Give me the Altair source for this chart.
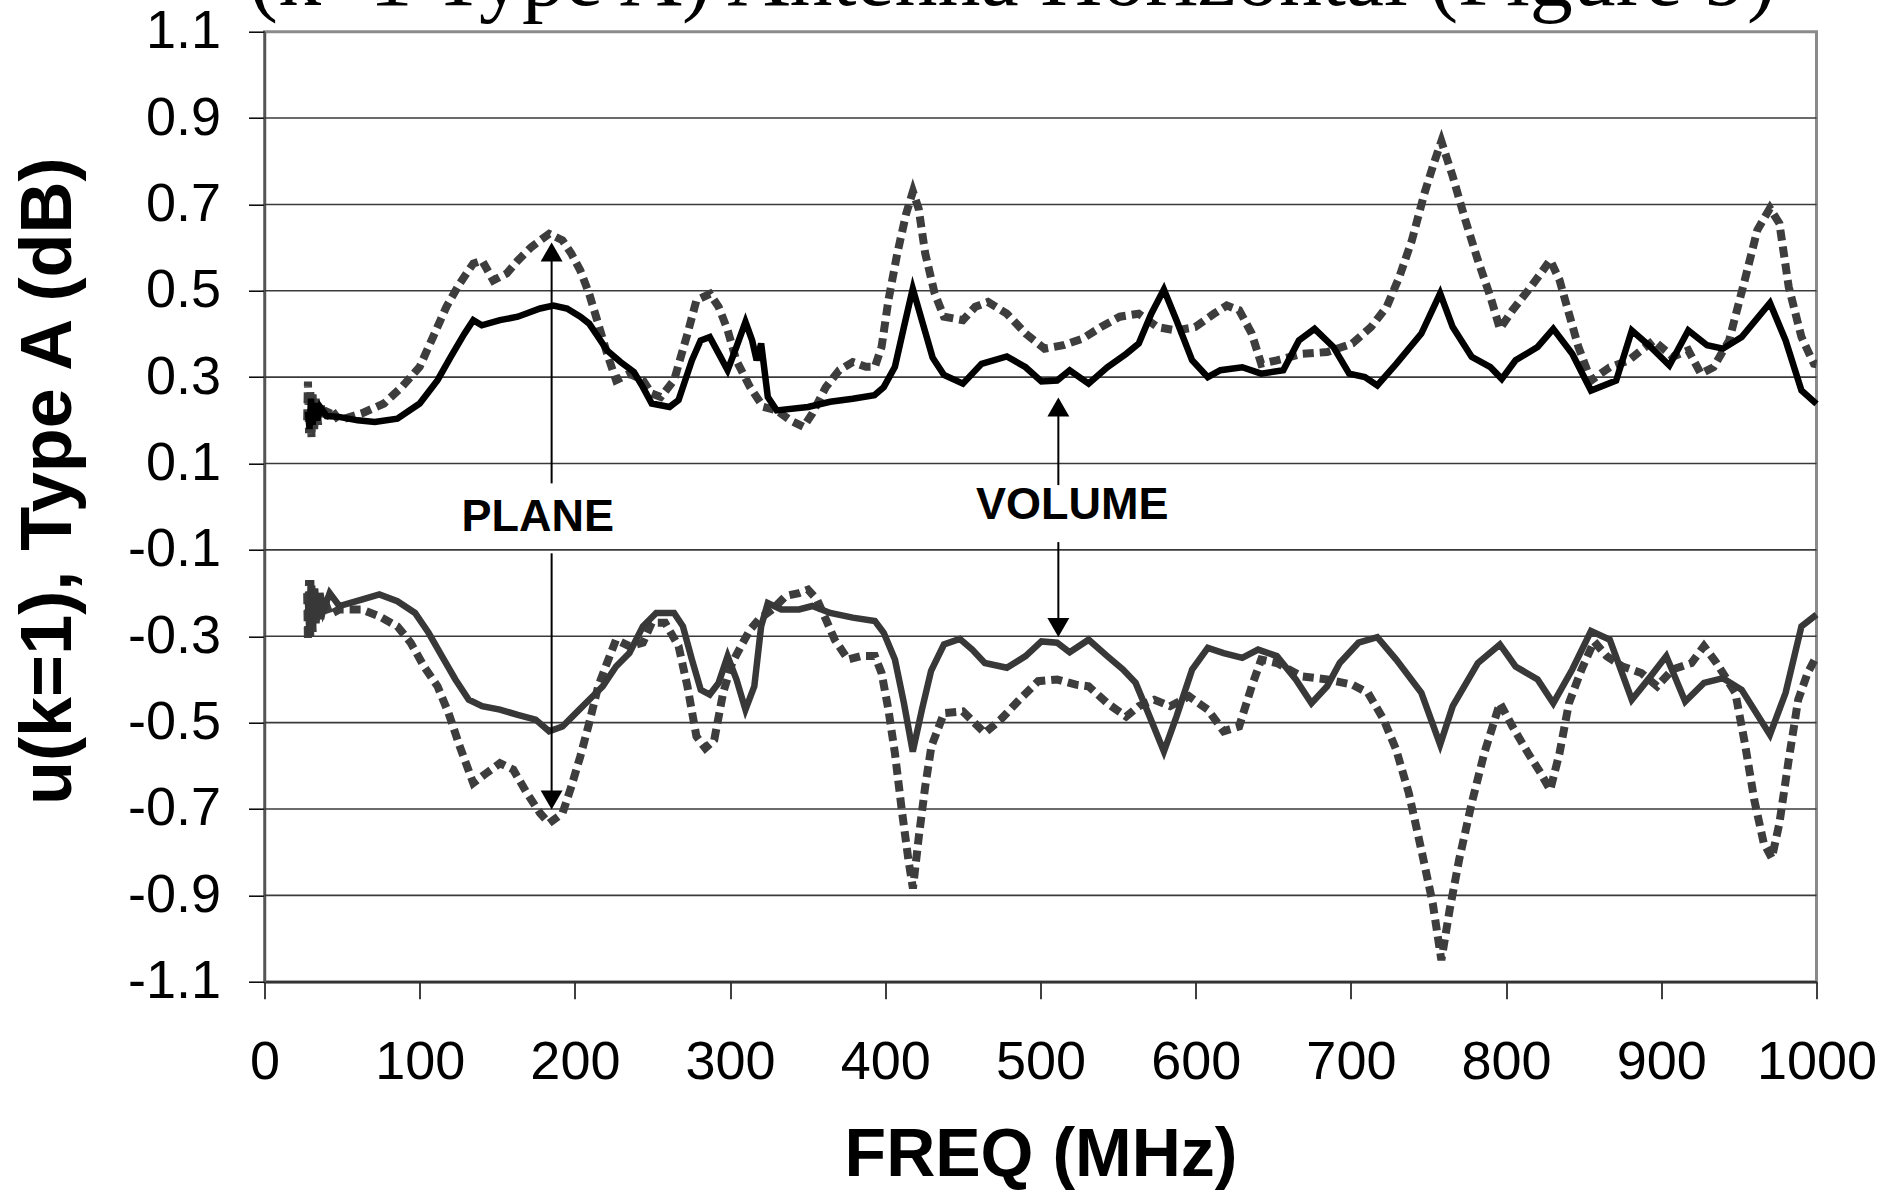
import altair as alt
import pandas as pd

# ---------------- data ----------------
chart_title = "(k=1 Type A) Antenna Horizontal (Figure 9)"
x_title = "FREQ (MHz)"
y_title = "u(k=1), Type A (dB)"

freq_ticks = [0, 100, 200, 300, 400, 500, 600, 700, 800, 900, 1000]
db_ticks = [-1.1, -0.9, -0.7, -0.5, -0.3, -0.1, 0.1, 0.3, 0.5, 0.7, 0.9, 1.1]
grid_db = [-0.9, -0.7, -0.5, -0.3, -0.1, 0.1, 0.3, 0.5, 0.7, 0.9]

# upper curves (positive)
upper_volume_freq = [28, 29, 30, 31, 32.5, 34, 36, 40, 48, 60, 71, 85.6, 100, 111.5, 120, 128.7, 134.5, 140,
                     151.7, 163.2,
                     177.6, 186.2, 194.9, 203.5, 209.2, 215, 220.7, 229.4, 238, 243.8, 249.5, 261, 266.8,
                     275.4, 281, 286.9, 292.6, 298.4, 304.1, 309.9, 314.2, 317.1, 320, 324.3, 330, 350.2,
                     364.5, 379, 393, 399, 406.2, 412, 417.7, 424.5, 430.5, 437.8, 450, 462, 478.3, 490.4,
                     500.6, 510.7, 518.8, 531, 543, 555.2, 563.3, 571.4, 579.5, 587.6, 597.7, 607.8, 615.9,
                     630, 642.2, 656.4, 666.5, 676.6, 688.7, 698.9, 709, 717, 729.2, 745.4, 757.5, 765.6,
                     777.8, 789.9, 797.2, 806.1, 820.3, 830.4, 842.6, 854.7, 870.9, 881, 893.1, 905.2, 917.4,
                     929.5, 939.7, 951.8, 970, 980.1, 990.3, 1000]
upper_volume_db = [0.22, 0.18, 0.25, 0.19, 0.24, 0.2, 0.23, 0.21, 0.208, 0.20, 0.196, 0.204, 0.239, 0.293,
                   0.347, 0.40, 0.432, 0.42,
                   0.432, 0.44, 0.459, 0.466, 0.459, 0.44, 0.424, 0.393, 0.362, 0.335, 0.312, 0.277, 0.239,
                   0.231, 0.247, 0.339, 0.385, 0.393, 0.355, 0.316, 0.37, 0.428, 0.385, 0.339, 0.378, 0.254,
                   0.223, 0.231, 0.243, 0.25, 0.258, 0.277, 0.324, 0.416, 0.505, 0.42, 0.345, 0.305, 0.285,
                   0.331, 0.348, 0.323, 0.29, 0.292, 0.316, 0.285, 0.323, 0.354, 0.378, 0.447, 0.503, 0.432,
                   0.339, 0.30, 0.316, 0.323, 0.308, 0.316, 0.385, 0.412, 0.37, 0.308, 0.30, 0.281, 0.331,
                   0.401, 0.494, 0.416, 0.347, 0.323, 0.296, 0.339, 0.37, 0.412, 0.354, 0.269, 0.292, 0.408,
                   0.37, 0.327, 0.408, 0.374, 0.366, 0.393, 0.472, 0.385, 0.269, 0.238]

upper_plane_freq = [27.5, 28, 28.7, 29.5, 30.3, 31, 32, 33, 34.5, 36, 38, 42, 48, 62.6, 77, 88.4, 100, 108.6,
                    117.2, 125.8, 134.5, 140.2, 147.4, 156,
                    163.2, 171.8, 183.4, 192, 197.7, 203.5, 209.2, 215, 220.7, 226.5, 235, 243.8, 249.5,
                    255.3, 263.9, 272.5, 278.3, 287, 292.6, 298.4, 304, 312.8, 321.4, 330, 338.7, 347.3, 353,
                    361.7, 370.3, 379, 387.5, 393.3, 397.6, 402, 407.7, 413.4, 417.8, 421.5, 425.7, 431.8,
                    437.8, 450, 458, 466.2, 478.3, 490.4, 502.6, 514.7, 526.9, 539, 551.1, 563.3, 575.4,
                    587.6, 599.7, 611.8, 620, 628, 636.1, 642.2, 652.3, 668.5, 684.7, 700.9, 713, 723.1,
                    731.2, 739.3, 747.4, 753.5, 758.3, 765.6, 773.7, 781.8, 789.9, 796, 804.1, 814.2, 822.3,
                    828.4, 834.4, 840.5, 846.6, 854.7, 866.8, 879, 895.1, 907.3, 917.4, 925.5, 933.6, 943.7,
                    953.8, 961.9, 970, 976.1, 982.1, 990.3, 998.3, 1000]
upper_plane_db = [0.20, 0.29, 0.17, 0.27, 0.16, 0.26, 0.18, 0.25, 0.19, 0.24, 0.20, 0.23, 0.20, 0.216, 0.239,
                  0.277, 0.324, 0.393, 0.463, 0.517, 0.563,
                  0.57, 0.524, 0.54, 0.57, 0.601, 0.632, 0.617, 0.586, 0.547, 0.493, 0.424, 0.355, 0.293,
                  0.308, 0.293, 0.262, 0.254, 0.293, 0.40, 0.478, 0.493, 0.463, 0.409, 0.339, 0.277, 0.231,
                  0.223, 0.20, 0.185, 0.216, 0.277, 0.316, 0.335, 0.324, 0.324, 0.37, 0.478, 0.586, 0.678,
                  0.73, 0.69, 0.587, 0.494, 0.44, 0.432, 0.463, 0.474, 0.447, 0.401, 0.366, 0.374, 0.389,
                  0.416, 0.44, 0.447, 0.416, 0.408, 0.416, 0.447, 0.466, 0.455, 0.401, 0.331, 0.339, 0.354,
                  0.358, 0.378, 0.416, 0.463, 0.532, 0.617, 0.726, 0.796, 0.846, 0.765, 0.664, 0.571, 0.486,
                  0.412, 0.455, 0.501, 0.54, 0.571, 0.525, 0.447, 0.37, 0.292, 0.323, 0.339, 0.385, 0.347,
                  0.362, 0.308, 0.323, 0.385, 0.525, 0.641, 0.691, 0.656, 0.509, 0.393, 0.331, 0.33]

# lower curves (negative)
lower_volume_freq = [28, 29, 30, 31, 32.5, 34, 36, 38, 42, 48.2, 62.6, 74, 85.6, 97, 105.7, 114.3, 123, 131.6,
                     140.2, 151.7, 163.2,
                     174.7, 183.4, 192, 200.6, 209.2, 217.9, 226.5, 235.1, 243.8, 252.4, 263.9, 269.6, 275.4,
                     281.1, 286.9, 292.6, 298.4, 304.1, 309.9, 315.6, 320, 324.3, 333, 344.4, 353, 364.5, 379,
                     393.3, 399, 406.2, 412, 417.7, 423.6, 429.5, 437.8, 448, 456, 464.1, 478.3, 490.4, 500.6,
                     510.7, 518.8, 531, 543, 553.2, 561.3, 569.4, 579.5, 587.6, 597.7, 607.8, 618, 630, 640.2,
                     652.3, 664.5, 674.6, 684.7, 692.8, 704.9, 717, 729.2, 745.4, 757.5, 765.6, 781.8, 796,
                     806.1, 820.3, 830.4, 842.6, 854.7, 866.8, 881, 893.1, 903.2, 915.4, 927.5, 939.7, 951.8,
                     970, 980.1, 990.3, 1000]
lower_volume_db = [-0.22, -0.30, -0.17, -0.28, -0.19, -0.26, -0.20, -0.24, -0.20, -0.23, -0.215, -0.203,
                   -0.219, -0.246, -0.292, -0.346, -0.40,
                   -0.447, -0.462, -0.47, -0.482, -0.493, -0.52, -0.509, -0.478, -0.447, -0.416, -0.37,
                   -0.339, -0.277, -0.246, -0.246, -0.277, -0.354, -0.424, -0.435, -0.408, -0.346, -0.40,
                   -0.47, -0.416, -0.277, -0.223, -0.238, -0.238, -0.23, -0.246, -0.257, -0.265, -0.292,
                   -0.354, -0.455, -0.567, -0.47, -0.38, -0.319, -0.306, -0.331, -0.362, -0.373, -0.346,
                   -0.312, -0.315, -0.337, -0.308, -0.346, -0.377, -0.408, -0.478, -0.567, -0.486, -0.377,
                   -0.327, -0.339, -0.35, -0.331, -0.346, -0.40, -0.455, -0.416, -0.362, -0.315, -0.302,
                   -0.354, -0.431, -0.551, -0.462, -0.362, -0.319, -0.37, -0.40, -0.455, -0.377, -0.288,
                   -0.308, -0.447, -0.393, -0.346, -0.451, -0.408, -0.397, -0.424, -0.528, -0.431, -0.277,
                   -0.25]

lower_plane_freq = [27.5, 28, 28.7, 29.5, 30.3, 31, 32, 33, 34.5, 36, 38, 42, 48.2, 62.6, 74, 85.6, 94.2,
                    102.8, 111.5, 118.6, 125.8, 134.5, 143,
                    151.7, 160.3, 169, 177.6, 183.4, 192, 197.7, 203.5, 209.2, 215, 220.7, 226.5, 235.1,
                    243.8, 249.5, 258.1, 266.8, 272.5, 278.3, 284, 289.8, 295.5, 301.3, 307, 312.8, 318.5,
                    327.2, 335.8, 344.4, 350.2, 356, 361.7, 367.4, 376, 384.7, 393.3, 397.6, 402, 406.2,
                    410.6, 414.9, 417.8, 421.6, 425.7, 429.7, 437.8, 450, 464.1, 474.3, 486.4, 498.5, 510.7,
                    522.8, 531, 543, 555.2, 563.3, 573.4, 583.5, 595.7, 607.8, 618, 628, 636.1, 642.2, 652.3,
                    668.5, 684.7, 700.9, 711, 721.1, 729.2, 737.3, 745.4, 752.7, 758.3, 763.6, 769.7, 777.8,
                    785.9, 796, 804.1, 814.2, 822.3, 828.4, 834.4, 840.5, 848.6, 856.7, 864.8, 875, 887.1,
                    897.3, 907.3, 919.4, 927.5, 935.6, 947.7, 953.8, 959.9, 966, 971.2, 976.1, 982.1, 988.2,
                    994.3, 1000]
lower_plane_db = [-0.20, -0.31, -0.17, -0.30, -0.18, -0.29, -0.19, -0.27, -0.20, -0.26, -0.21, -0.25, -0.238,
                  -0.238, -0.254, -0.277, -0.315, -0.37, -0.416, -0.478,
                  -0.555, -0.64, -0.617, -0.594, -0.609, -0.663, -0.71, -0.733, -0.71, -0.648, -0.578,
                  -0.501, -0.416, -0.362, -0.308, -0.323, -0.315, -0.269, -0.269, -0.323, -0.416, -0.532,
                  -0.559, -0.54, -0.431, -0.362, -0.323, -0.285, -0.261, -0.238, -0.207, -0.20, -0.192,
                  -0.215, -0.261, -0.308, -0.354, -0.346, -0.346, -0.385, -0.47, -0.571, -0.702, -0.818,
                  -0.884, -0.764, -0.648, -0.555, -0.478, -0.474, -0.524, -0.493, -0.447, -0.404, -0.40,
                  -0.412, -0.416, -0.455, -0.486, -0.462, -0.447, -0.462, -0.439, -0.47, -0.52, -0.509,
                  -0.416, -0.354, -0.362, -0.393, -0.40, -0.412, -0.431, -0.493, -0.563, -0.663, -0.795,
                  -0.918, -1.05, -0.934, -0.818, -0.687, -0.571, -0.455, -0.509, -0.571, -0.617, -0.656,
                  -0.571, -0.455, -0.377, -0.312, -0.346, -0.37, -0.385, -0.416, -0.377, -0.362, -0.323,
                  -0.362, -0.431, -0.547, -0.679, -0.779, -0.814, -0.733, -0.586, -0.447, -0.385, -0.346]

# annotations
label_text = ["PLANE", "VOLUME"]
label_freq = [176, 520.5]
label_db = [-0.056, -0.029]

arrow_freq = [185, 185, 511.5, 511.5]
arrow_start_db = [0.054, -0.108, 0.05, -0.082]
arrow_end_db = [0.58, -0.67, 0.23, -0.28]
head_db = [0.59, -0.679, 0.231, -0.28]
head_shape = ["triangle-up", "triangle-down", "triangle-up", "triangle-down"]

# ---------------- chart ----------------
W, H = 1552, 950
FONT = "Liberation Sans"

xs = alt.Scale(domain=[0, 1000], nice=False, zero=False)
ys = alt.Scale(domain=[-1.1, 1.1], nice=False, zero=False)

x_axis = alt.Axis(values=freq_ticks, format="d", labelFont=FONT, labelFontSize=54, labelColor="#000",
                  labelPadding=37, labelFlush=False, labelOverlap=False, labelBound=False,
                  tickSize=17, tickColor="#000", tickWidth=1.5, domainColor="#333", domainWidth=2.5,
                  grid=False, title=x_title, titleFont=FONT, titleFontSize=68, titleFontWeight="bold",
                  titleColor="#000", titleX=776, titleY=194, titleBaseline="alphabetic",
                  titleAlign="center", titleAnchor="middle")
y_axis = alt.Axis(values=db_ticks, format=".1f",
                  labelExpr="datum.value < 0 ? '-' + format(-datum.value, '.1f') : format(datum.value, '.1f')",
                  labelFont=FONT, labelFontSize=54, labelColor="#000",
                  labelPadding=28, labelFlush=False, labelOverlap=False, labelBound=False,
                  tickSize=16, tickColor="#000", tickWidth=1.5, domainColor="#555", domainWidth=2.5,
                  grid=False, title=y_title, titleFont=FONT, titleFontSize=72, titleFontWeight="bold",
                  titleColor="#000", titleAngle=270, titleX=-194.5, titleY=449,
                  titleBaseline="alphabetic", titleAlign="center")


def X(field="freq"):
    return alt.X(f"{field}:Q", scale=xs, axis=x_axis)


def Y(field="db"):
    return alt.Y(f"{field}:Q", scale=ys, axis=y_axis)


def frame(f, v):
    return pd.DataFrame({"freq": f, "db": v})


grid = alt.Chart(pd.DataFrame({"db": grid_db, "freq": [0] * len(grid_db)})).mark_rule(
    color="#3a3a3a", strokeWidth=1.6
).encode(y=Y())


def line(df, color, width, dash=None):
    kw = dict(color=color, strokeWidth=width, strokeCap="butt", strokeJoin="miter")
    if dash:
        kw["strokeDash"] = dash
    return alt.Chart(df).mark_line(**kw).encode(x=X(), y=Y(), order="freq:Q")


lp = line(frame(lower_plane_freq, lower_plane_db), "#3d3d3d", 8, [11, 6])
up = line(frame(upper_plane_freq, upper_plane_db), "#3d3d3d", 8, [11, 6])
lv = line(frame(lower_volume_freq, lower_volume_db), "#383838", 6.5)
uv = line(frame(upper_volume_freq, upper_volume_db), "#000000", 6.5)

arrows_df = pd.DataFrame({"freq": arrow_freq, "y0": arrow_start_db, "y1": arrow_end_db,
                          "head": head_db, "shape": head_shape})
arrow_lines = alt.Chart(arrows_df).mark_rule(color="#000", strokeWidth=2).encode(
    x=X(), y=Y("y0"), y2="y1:Q"
)
arrow_heads = alt.Chart(arrows_df).mark_point(filled=True, color="#000", opacity=1, size=480,
                                              strokeWidth=0).encode(
    x=X(), y=Y("head"),
    shape=alt.Shape("shape:N", scale=None, legend=None),
)

labels = alt.Chart(pd.DataFrame({"freq": label_freq, "db": label_db, "t": label_text})).mark_text(
    font=FONT, fontSize=45, fontWeight="bold", color="#000", align="center", baseline="alphabetic"
).encode(x=X(), y=Y(), text="t:N")

title = alt.Chart(pd.DataFrame({"t": [chart_title]})).mark_text(
    font="Liberation Serif", fontSize=86, color="#000", align="center", baseline="alphabetic"
).encode(x=alt.value(748), y=alt.value(-27), text="t:N")

chart = alt.layer(grid, lp, up, lv, uv, arrow_lines, arrow_heads, labels, title).properties(
    width=W, height=H,
    autosize=alt.AutoSizeParams(type="none"),
    padding={"left": 264.5, "top": 31.7, "right": 68.5, "bottom": 213.3},
    background="#ffffff",
).configure_view(stroke="#8a8a8a", strokeWidth=3)

chart.save("out.html", embed_options={"renderer": "svg", "actions": False})
